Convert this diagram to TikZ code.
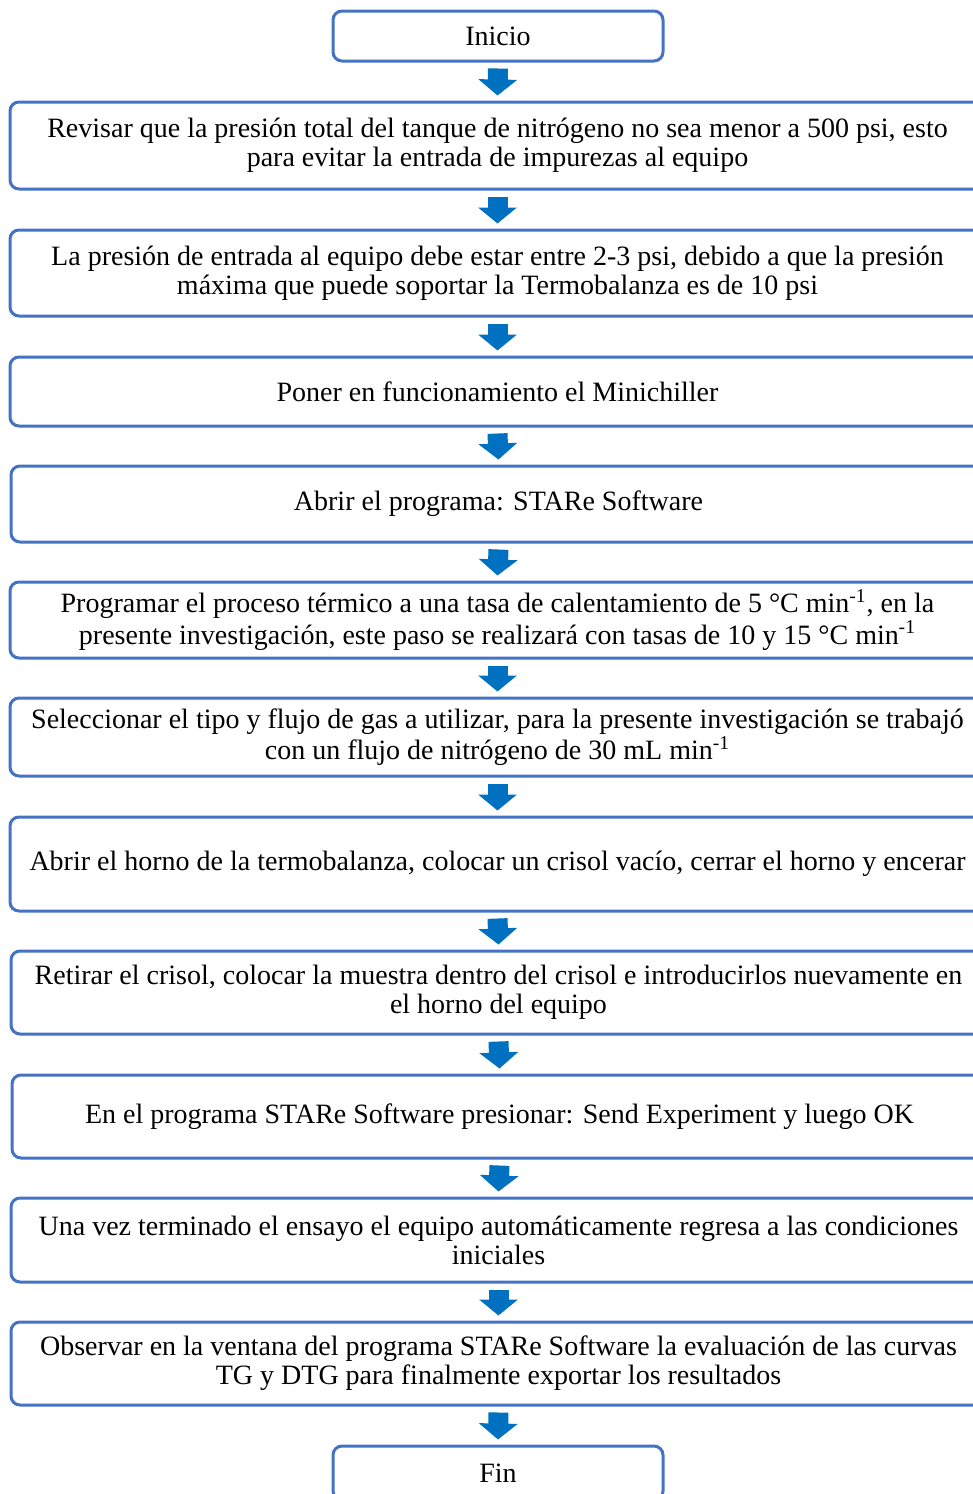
\documentclass[tikz,border=0pt]{standalone}
\usepackage{fontspec}
\setmainfont{Liberation Serif}
\usetikzlibrary{arrows.meta,calc}
\definecolor{boxblue}{HTML}{4472C4}
\definecolor{arrowblue}{HTML}{0070C0}
\tikzset{
  stepbox/.style={draw=boxblue, line width=1.5pt, rounded corners=4.5pt, fill=white,
    rectangle, align=center, inner sep=0pt, minimum width=487.5pt, minimum height=#1*0.5pt,
    font=\fontsize{14}{14.5}\selectfont},
  endbox/.style={stepbox=#1, minimum width=165pt},
  flow/.style={draw=arrowblue, line width=10pt,
    -{Triangle[width=19pt,length=8pt]}},
}
\newcommand{\mi}{min\textsuperscript{-1}}
\begin{document}
\begin{tikzpicture}[x=0.5pt,y=-0.5pt]
\useasboundingbox (0,0) rectangle (973,1494);
\clip (0,0) rectangle (973,1494);
\node[endbox=50] (n0) at (498,36) {Inicio};
\node[stepbox=87] (n1) at (497.5,145.5) {Revisar que la presión total del tanque de nitrógeno no sea menor a 500 psi, esto\\para evitar la entrada de impurezas al equipo};
\node[stepbox=86] (n2) at (497.5,273) {La presión de entrada al equipo debe estar entre 2-3 psi, debido a que la presión\\máxima que puede soportar la Termobalanza es de 10 psi};
\node[stepbox=69] (n3) at (497.5,391.5) {Poner en funcionamiento el Minichiller};
\node[stepbox=76] (n4) at (498.5,504) {Abrir el programa: STARe Software};
\node[stepbox=76] (n5) at (497.5,620) {Programar el proceso térmico a una tasa de calentamiento de 5 °C \mi, en la\\presente investigación, este paso se realizará con tasas de 10 y 15 °C \mi};
\node[stepbox=78] (n6) at (497.5,737) {Seleccionar el tipo y flujo de gas a utilizar, para la presente investigación se trabajó\\con un flujo de nitrógeno de 30 mL \mi};
\node[stepbox=94] (n7) at (497.5,864) {Abrir el horno de la termobalanza, colocar un crisol vacío, cerrar el horno y encerar};
\node[stepbox=83] (n8) at (498.5,992.5) {Retirar el crisol, colocar la muestra dentro del crisol e introducirlos nuevamente en\\el horno del equipo};
\node[stepbox=83] (n9) at (499.5,1116.5) {En el programa STARe Software presionar: Send Experiment y luego OK};
\node[stepbox=84] (n10) at (498.5,1240) {Una vez terminado el ensayo el equipo automáticamente regresa a las condiciones\\iniciales};
\node[stepbox=83] (n11) at (498.5,1363.5) {Observar en la ventana del programa STARe Software la evaluación de las curvas\\TG y DTG para finalmente exportar los resultados};
\node[endbox=54] (n12) at (498,1473) {Fin};
\foreach \a/\b in {n0/n1,n1/n2,n2/n3,n3/n4,n4/n5,n5/n6,n6/n7,n7/n8,n8/n9,n9/n10,n10/n11,n11/n12}{
  \draw[flow] ($(\a.south)+(0,6)$) -- ($(\b.north)+(0,-5)$);
}
\end{tikzpicture}
\end{document}
